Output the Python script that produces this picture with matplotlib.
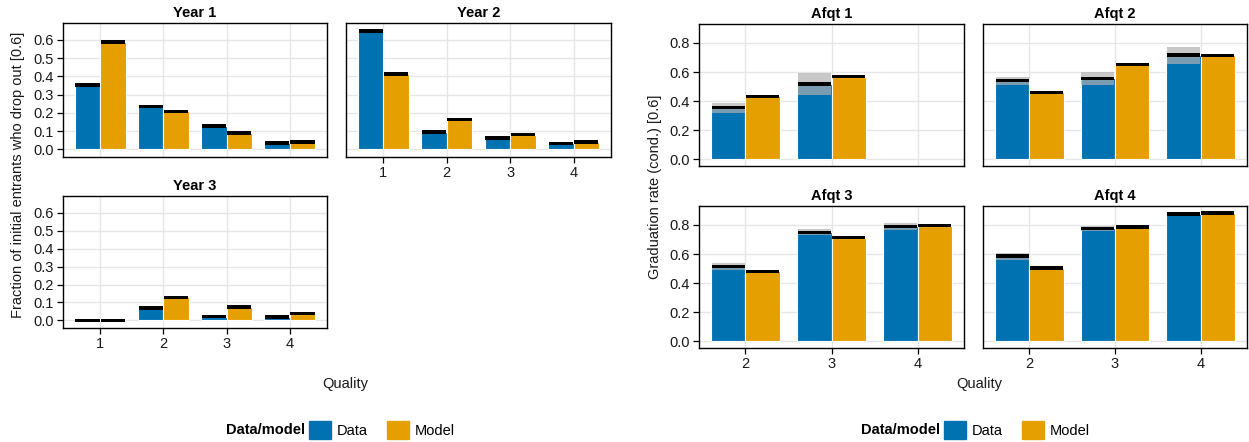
import numpy as np
import matplotlib
matplotlib.use('Agg')
import matplotlib.pyplot as plt
from matplotlib.patches import Patch

plt.rcParams['font.family'] = ['Liberation Sans', 'DejaVu Sans']
FS = 10.5
plt.rcParams['font.size'] = FS

# ---------------- data ----------------
quality_year = [1, 2, 3, 4]
year1_data = [0.353, 0.235, 0.127, 0.036]
year1_model = [0.589, 0.209, 0.089, 0.040]
year2_data = [0.649, 0.096, 0.063, 0.033]
year2_model = [0.412, 0.165, 0.080, 0.040]
year3_data = [0.001, 0.069, 0.022, 0.019]
year3_model = [0.001, 0.129, 0.074, 0.038]

quality_afqt = [2, 3, 4]
afqt1_data = [0.356, 0.517, np.nan]
afqt1_lo = [0.320, 0.443, np.nan]
afqt1_hi = [0.389, 0.595, np.nan]
afqt1_model = [0.432, 0.569, np.nan]

afqt2_data = [0.540, 0.556, 0.716]
afqt2_lo = [0.511, 0.511, 0.655]
afqt2_hi = [0.566, 0.602, 0.770]
afqt2_model = [0.461, 0.652, 0.714]

afqt3_data = [0.515, 0.750, 0.791]
afqt3_lo = [0.487, 0.734, 0.766]
afqt3_hi = [0.539, 0.773, 0.814]
afqt3_model = [0.482, 0.713, 0.795]

afqt4_data = [0.586, 0.777, 0.875]
afqt4_lo = [0.560, 0.761, 0.862]
afqt4_hi = [0.606, 0.793, 0.891]
afqt4_model = [0.505, 0.786, 0.882]

year_yticks = [0.0, 0.1, 0.2, 0.3, 0.4, 0.5, 0.6]
afqt_yticks = [0.0, 0.2, 0.4, 0.6, 0.8]

BLUE = '#0072B2'
ORANGE = '#E69F00'
GREY = '#b0b0b0'

W, H = 1249, 442
fig = plt.figure(figsize=(W / 100, H / 100), dpi=100)


def add_ax(x0, y0, x1, y1):
    return fig.add_axes([x0 / W, 1 - y1 / H, (x1 - x0) / W, (y1 - y0) / H])


def draw(ax, q, data, model, lo, hi, band, title, xlim, ylim, yticks,
         show_x, show_y):
    q = np.asarray(q, float)
    ax.set_axisbelow(True)
    ax.grid(True, color='#e6e6e6', lw=1, zorder=0)
    for offs, vals, col in [(-0.2, data, BLUE), (0.2, model, ORANGE)]:
        vals = np.asarray(vals, float)
        m = ~np.isnan(vals)
        ax.bar(q[m] + offs, vals[m], width=0.4, color=col, edgecolor='white',
               linewidth=0.8, zorder=2)
        if offs < 0 and lo is not None:
            l = np.asarray(lo, float)[m]
            h = np.asarray(hi, float)[m]
            ax.bar(q[m] + offs, h - l, bottom=l, width=0.385, color=GREY,
                   alpha=0.69, linewidth=0, zorder=3)
        ax.bar(q[m] + offs, 2 * band, bottom=vals[m] - band, width=0.385,
               color='black', linewidth=0, zorder=4)
    ax.set_xlim(*xlim)
    ax.set_ylim(*ylim)
    ax.set_xticks(q)
    ax.set_xticklabels([str(int(v)) for v in q])
    ax.set_yticks(yticks)
    ax.set_yticklabels(['%.1f' % v for v in yticks])
    ax.set_title(title, fontweight='bold', pad=4.0, fontsize=FS)
    for s in ax.spines.values():
        s.set_color('black')
        s.set_linewidth(1.0)
    ax.tick_params(direction='out', length=4, width=0.9, pad=2.5,
                   colors='black', labelsize=FS, labelcolor='#1a1a1a')
    if not show_x:
        ax.tick_params(axis='x', length=0, labelbottom=False)
    if not show_y:
        ax.tick_params(axis='y', length=0, labelleft=False)


yxlim = (0.41, 4.59)
yylim = (-0.042, 0.693)
axlim = (1.46, 4.54)
aylim = (-0.046, 0.93)
yb = 0.0095
ab = 0.0115

ax = add_ax(63, 23, 327, 157)
draw(ax, quality_year, year1_data, year1_model, None, None, yb, 'Year 1',
     yxlim, yylim, year_yticks, False, True)
ax = add_ax(346, 23, 611, 157)
draw(ax, quality_year, year2_data, year2_model, None, None, yb, 'Year 2',
     yxlim, yylim, year_yticks, True, False)
ax = add_ax(63, 196, 327, 328)
draw(ax, quality_year, year3_data, year3_model, None, None, yb, 'Year 3',
     yxlim, yylim, year_yticks, True, True)

ax = add_ax(699, 24, 964, 166)
draw(ax, quality_afqt, afqt1_data, afqt1_model, afqt1_lo, afqt1_hi, ab,
     'Afqt 1', axlim, aylim, afqt_yticks, False, True)
ax = add_ax(983, 24, 1247, 166)
draw(ax, quality_afqt, afqt2_data, afqt2_model, afqt2_lo, afqt2_hi, ab,
     'Afqt 2', axlim, aylim, afqt_yticks, False, False)
ax = add_ax(699, 206, 964, 348)
draw(ax, quality_afqt, afqt3_data, afqt3_model, afqt3_lo, afqt3_hi, ab,
     'Afqt 3', axlim, aylim, afqt_yticks, True, True)
ax = add_ax(983, 206, 1247, 348)
draw(ax, quality_afqt, afqt4_data, afqt4_model, afqt4_lo, afqt4_hi, ab,
     'Afqt 4', axlim, aylim, afqt_yticks, True, False)

fig.text(18 / W, 1 - 175 / H, 'Fraction of initial entrants who drop out [0.6]',
         rotation=90, ha='center', va='center', fontsize=FS, color='#1a1a1a')
fig.text(655 / W, 1 - 187 / H, 'Graduation rate (cond.) [0.6]',
         rotation=90, ha='center', va='center', fontsize=FS, color='#1a1a1a')
fig.text(345 / W, 1 - 384 / H, 'Quality', ha='center', va='center',
         fontsize=FS, color='#1a1a1a')
fig.text(979 / W, 1 - 384 / H, 'Quality', ha='center', va='center',
         fontsize=FS, color='#1a1a1a')

for tx, lx in [(305, 309), (940, 944)]:
    fig.text(tx / W, 1 - 430 / H, 'Data/model', ha='right', va='center',
             fontweight='bold', fontsize=FS)
    fig.legend(handles=[Patch(color=BLUE), Patch(color=ORANGE)],
               labels=['Data', 'Model'], loc='center left',
               bbox_to_anchor=(lx / W, 1 - 430 / H), ncol=2, frameon=False,
               handlelength=1.5, handleheight=1.45, handletextpad=0.4,
               columnspacing=1.3, borderpad=0, borderaxespad=0, fontsize=FS)

fig.savefig('out.png', dpi=100)
